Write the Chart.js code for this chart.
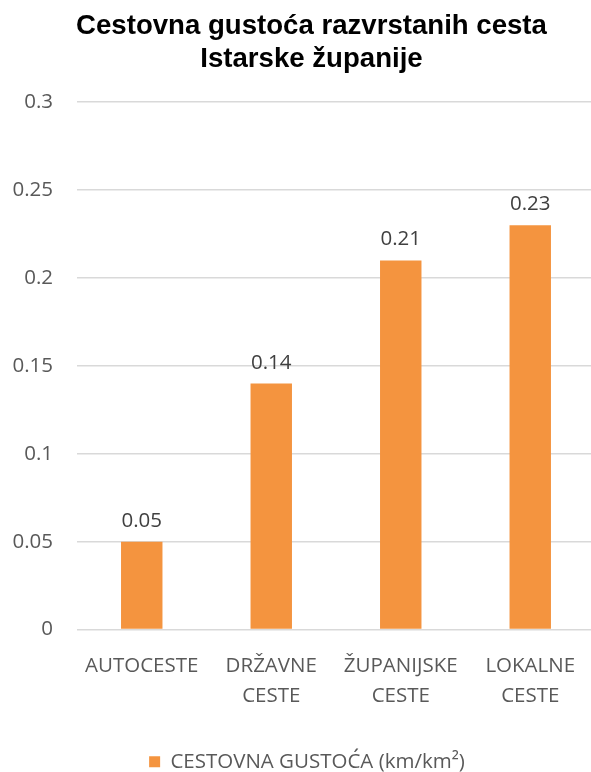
<!DOCTYPE html>
<html>
<head>
<meta charset="utf-8">
<script src="https://cdn.jsdelivr.net/npm/chart.js@4"></script>
<style>
html,body{margin:0;padding:0;background:#fff;}
#wrap{width:591px;height:772px;position:relative;}
</style>
</head>
<body>
<div id="wrap"><canvas id="c" width="591" height="772"></canvas></div>
<script>
const categories = [["AUTOCESTE"], ["DRŽAVNE", "CESTE"], ["ŽUPANIJSKE", "CESTE"], ["LOKALNE", "CESTE"]];
const values = [0.05, 0.14, 0.21, 0.23];
const valueLabels = ["0.05", "0.14", "0.21", "0.23"];
const tickLabels = ["0", "0.05", "0.1", "0.15", "0.2", "0.25", "0.3"];
const seriesName = "CESTOVNA GUSTOĆA (km/km²)";
const titleLines = ["Cestovna gustoća razvrstanih cesta", "Istarske županije"];

const labelPlugin = {
  id: 'valLabels',
  afterLayout(chart) {
    // plot area in the reference runs slightly past the right edge
    const xs = chart.scales.x;
    chart.chartArea.right = 595;
    chart.chartArea.width = chart.chartArea.right - chart.chartArea.left;
    xs.right = 595;
    xs.width = xs.right - xs.left;
    xs.configure();
    // title and legend are centred a little right of the canvas centre
    if (chart.titleBlock) { chart.titleBlock.left = 32; chart.titleBlock.width = chart.titleBlock.right - 32; }
    if (chart.legend) { chart.legend.left = 23; chart.legend.width = chart.legend.right - 23; }
  },
  afterDatasetsDraw(chart) {
    const ctx = chart.ctx;
    const meta = chart.getDatasetMeta(0);
    ctx.save();
    ctx.font = '20.5px "Open Sans"';
    ctx.fillStyle = '#404040';
    ctx.textAlign = 'center';
    ctx.textBaseline = 'alphabetic';
    meta.data.forEach((bar, i) => {
      ctx.fillText(valueLabels[i], bar.x, bar.y - 15);
    });
    ctx.restore();
  }
};

new Chart(document.getElementById('c'), {
  type: 'bar',
  data: {
    labels: categories,
    datasets: [{
      label: seriesName,
      data: values,
      backgroundColor: '#F4943F',
      barPercentage: 0.64,
      categoryPercentage: 0.5
    }]
  },
  options: {
    responsive: false,
    animation: false,
    layout: { padding: { left: 0, right: 0, top: 0, bottom: -10 } },
    plugins: {
      title: {
        display: true,
        text: titleLines,
        font: { family: '"Liberation Sans", Arial, sans-serif', size: 27.6, weight: 'bold', lineHeight: 1.2 },
        color: '#000',
        padding: { top: 10, bottom: 26 }
      },
      legend: {
        position: 'bottom',
        labels: {
          font: { family: '"Open Sans"', size: 20.5 },
          color: '#595959',
          boxWidth: 11,
          boxHeight: 11,
          padding: 4
        }
      },
      tooltip: { enabled: false }
    },
    scales: {
      x: {
        grid: { display: false, drawTicks: false },
        border: { display: false },
        ticks: {
          font: { family: '"Open Sans"', size: 20.5, lineHeight: 1.46 },
          color: '#595959',
          padding: 22,
          maxRotation: 0,
          autoSkip: false
        },
        afterFit(scale) { scale.height += 14; scale.paddingLeft = 0; scale.paddingRight = 0; }
      },
      y: {
        min: 0,
        max: 0.3,
        grid: { color: '#d9d9d9', lineWidth: 1.6, drawTicks: false },
        border: { display: false },
        ticks: {
          stepSize: 0.05,
          font: { family: '"Open Sans"', size: 20.5 },
          color: '#595959',
          padding: 24,
          callback: (v, i) => tickLabels[i]
        },
        afterFit(scale) { scale.width = 77; }
      }
    }
  },
  plugins: [labelPlugin]
});
</script>
</body>
</html>
